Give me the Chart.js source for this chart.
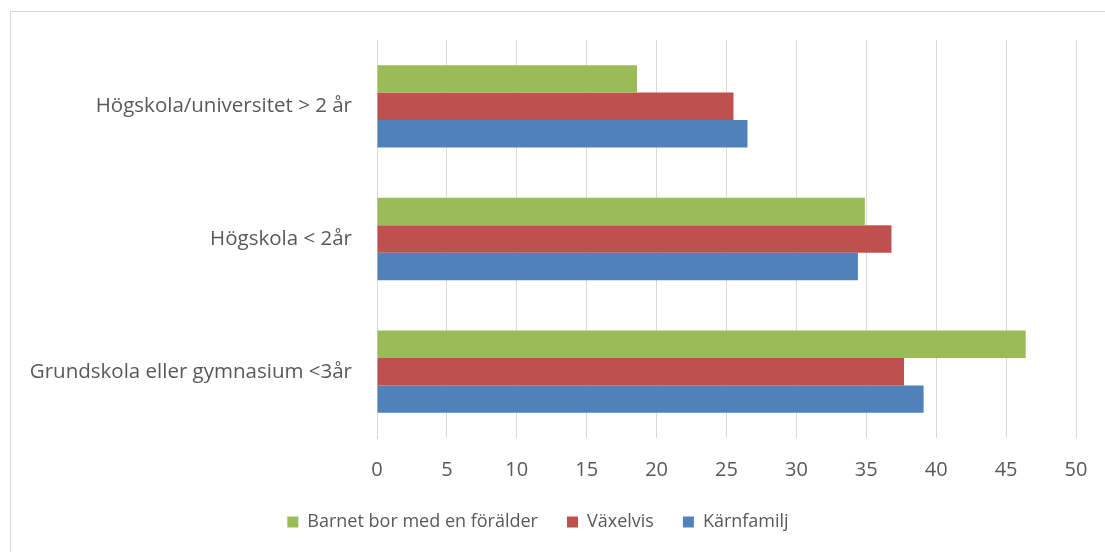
<!DOCTYPE html>
<html>
<head>
<meta charset="utf-8">
<script src="https://cdn.jsdelivr.net/npm/chart.js@4"></script>
<style>
    html, body { margin: 0; padding: 0; background: #fff; }
    #frame {
        position: absolute;
        left: 10px;
        top: 11px;
        width: 1100px;
        height: 545px;
        border: 1px solid #d9d9d9;
    }
    #wrap { position: absolute; left: 0; top: 0; width: 1105px; height: 552px; }
</style>
</head>
<body>
<div id="frame"></div>
<div id="wrap"><canvas id="chart"></canvas></div>
<script>
// Education level categories (top to bottom)
const categories = [
    'Högskola/universitet > 2 år',
    'Högskola < 2år',
    'Grundskola eller gymnasium <3år'
];

const seriesNames = ['Barnet bor med en förälder', 'Växelvis', 'Kärnfamilj'];
const seriesColors = ['#9bbb59', '#c0504d', '#4f81bd'];

const ensamValues = [18.6, 34.9, 46.4];
const vaxelvisValues = [25.5, 36.8, 37.7];
const karnfamiljValues = [26.5, 34.4, 39.1];

const xTicks = [0, 5, 10, 15, 20, 25, 30, 35, 40, 45, 50];

const FONT = '"Open Sans", "Liberation Sans", sans-serif';
const TEXT = '#595959';

const seriesValues = [ensamValues, vaxelvisValues, karnfamiljValues];

new Chart(document.getElementById('chart'), {
    type: 'bar',
    data: {
        labels: categories,
        datasets: seriesNames.map((name, i) => ({
            label: name,
            data: seriesValues[i],
            backgroundColor: seriesColors[i],
            borderWidth: 0,
            categoryPercentage: 0.62,
            barPercentage: 1
        }))
    },
    options: {
        indexAxis: 'y',
        responsive: true,
        maintainAspectRatio: false,
        animation: false,
        layout: { padding: { top: 40, right: 29, left: 0, bottom: 11 } },
        plugins: {
            tooltip: { enabled: false },
            legend: {
                position: 'bottom',
                labels: {
                    color: TEXT,
                    font: { family: FONT, size: 18 },
                    boxWidth: 11,
                    boxHeight: 11,
                    padding: 29
                }
            }
        },
        scales: {
            x: {
                min: 0,
                max: 50,
                afterBuildTicks: scale => { scale.ticks = xTicks.map(v => ({ value: v })); },
                afterFit: scale => {
                    scale.height = 46;
                    // label overhang is already covered by the layout padding
                    scale.paddingLeft = 0;
                    scale.paddingRight = 0;
                },
                grid: { color: '#d9d9d9', lineWidth: 1, drawTicks: false },
                border: { display: false },
                ticks: {
                    color: TEXT,
                    font: { family: FONT, size: 20 },
                    padding: 20
                }
            },
            y: {
                afterFit: scale => { scale.width = 377; },
                grid: { display: false, drawTicks: false },
                border: { color: '#d9d9d9' },
                ticks: {
                    color: TEXT,
                    font: { family: FONT, size: 20.5 },
                    padding: 25
                }
            }
        }
    }
});
</script>
</body>
</html>
